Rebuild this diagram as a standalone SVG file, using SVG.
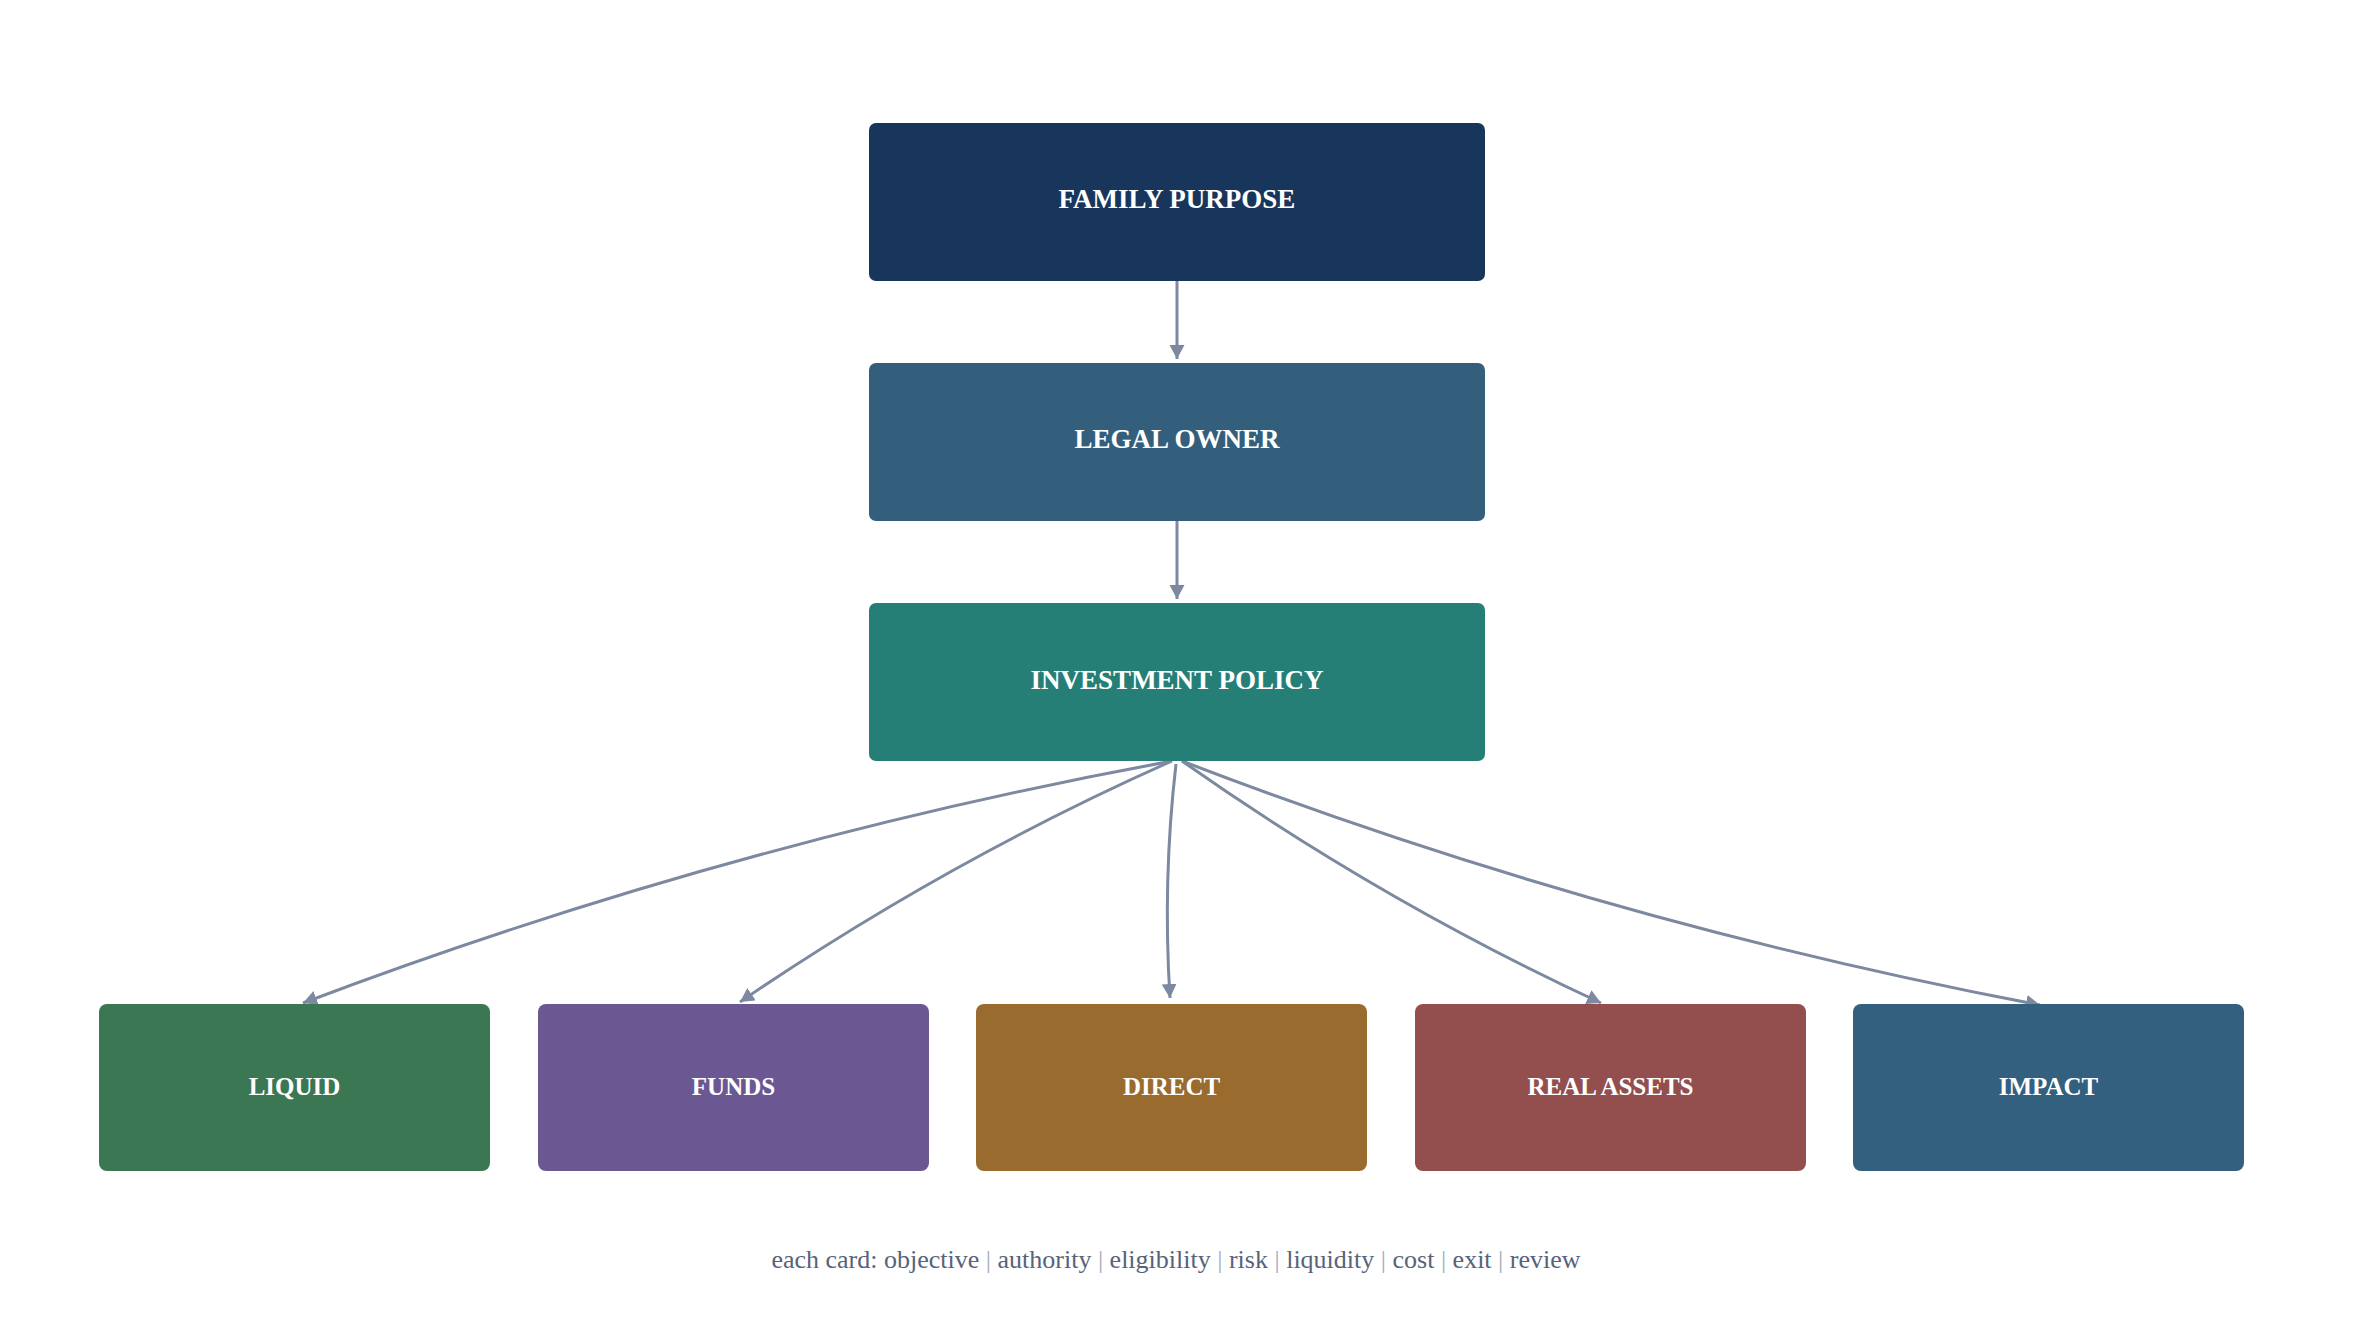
<svg xmlns="http://www.w3.org/2000/svg" width="2354" height="1342" viewBox="0 0 2354 1342">
<style>
.lbl{font-family:"Liberation Serif","Times New Roman",serif;font-weight:bold;fill:#ffffff;text-anchor:middle}
.top{font-size:27px}
.bot{font-size:25px}
.edge{fill:none;stroke:#7d89a0;stroke-width:3;marker-end:url(#arr)}
.cap{font-family:"Liberation Serif","Times New Roman",serif;font-size:26px;fill:#56637a;text-anchor:middle}
.sep{fill:#a3adbd}
</style>
<defs>
<marker id="arr" markerUnits="userSpaceOnUse" markerWidth="16" markerHeight="16" viewBox="0 0 16 16" refX="14" refY="7.5" orient="auto">
<path d="M0,0 L14,7.5 L0,15 z" fill="#7d89a0"/>
</marker>
</defs>
<rect width="2354" height="1342" fill="#ffffff"/>
<g id="connectors">
<path class="edge" d="M1177,281 L1177,359"/>
<path class="edge" d="M1177,521 L1177,599"/>
<path class="edge" d="M1172,761 Q726.6,842.9 303,1003"/>
<path class="edge" d="M1172,761 Q945,862 740,1002"/>
<path class="edge" d="M1176,764 Q1162.5,880.7 1170,998"/>
<path class="edge" d="M1182,761 Q1380.6,900.9 1601,1003"/>
<path class="edge" d="M1182,761 Q1600,921.5 2040,1005"/>
</g>
<g id="family-purpose">
<rect x="869" y="123" width="616" height="158" rx="7" fill="#18365c"/>
<text class="lbl top" x="1177" y="208">FAMILY PURPOSE</text>
</g>
<g id="legal-owner">
<rect x="869" y="363" width="616" height="158" rx="7" fill="#335f7d"/>
<text class="lbl top" x="1177" y="448">LEGAL OWNER</text>
</g>
<g id="investment-policy">
<rect x="869" y="603" width="616" height="158" rx="7" fill="#267f77"/>
<text class="lbl top" x="1177" y="689">INVESTMENT POLICY</text>
</g>
<g id="liquid">
<rect x="99" y="1004" width="391" height="167" rx="8" fill="#3b7753"/>
<text class="lbl bot" x="294.5" y="1095">LIQUID</text>
</g>
<g id="funds">
<rect x="538" y="1004" width="391" height="167" rx="8" fill="#6b5893"/>
<text class="lbl bot" x="733.5" y="1095">FUNDS</text>
</g>
<g id="direct">
<rect x="976" y="1004" width="391" height="167" rx="8" fill="#9a6b2f"/>
<text class="lbl bot" x="1171.5" y="1095">DIRECT</text>
</g>
<g id="real-assets">
<rect x="1415" y="1004" width="391" height="167" rx="8" fill="#934f4e"/>
<text class="lbl bot" x="1610.5" y="1095">REAL ASSETS</text>
</g>
<g id="impact">
<rect x="1853" y="1004" width="391" height="167" rx="8" fill="#32607e"/>
<text class="lbl bot" x="2048.5" y="1095">IMPACT</text>
</g>
<g id="caption">
<text class="cap" x="1176" y="1268">each card: objective <tspan class="sep">|</tspan> authority <tspan class="sep">|</tspan> eligibility <tspan class="sep">|</tspan> risk <tspan class="sep">|</tspan> liquidity <tspan class="sep">|</tspan> cost <tspan class="sep">|</tspan> exit <tspan class="sep">|</tspan> review</text>
</g>
</svg>
